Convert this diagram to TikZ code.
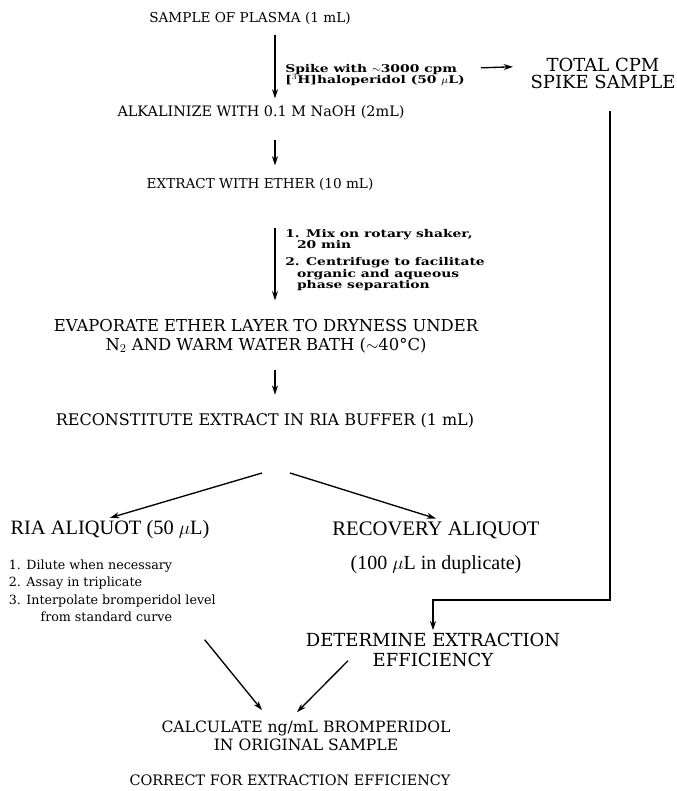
\documentclass[tikz,border=0pt]{standalone}
\usepackage{fontspec}
\setmainfont{DejaVu Serif}
\newfontfamily\timesfont{Liberation Serif}
\newfontfamily\notefont[FakeStretch=1.3]{DejaVu Serif}
\usetikzlibrary{arrows.meta,positioning,calc}
\newcommand\fs[2]{\fontsize{#1}{#2}\selectfont}

\begin{document}
\begin{tikzpicture}[x=0.75pt,y=-0.75pt,
    stage/.style={align=center,inner sep=2pt},
    note/.style={align=left,font=\notefont\bfseries\fs{8}{8.6},inner sep=0pt},
    link/.style={line width=1pt},
    arr/.style={link,-{Stealth[length=7pt,width=4.5pt]}}
  ]
  \useasboundingbox (0,0) rectangle (676,791);
  \coordinate (mainx) at (275,0);
  \node[stage,font=\fs{10.2}{13}] (sample) at (250,18) {SAMPLE OF PLASMA (1 mL)};
  \node[note,anchor=west] (spike) at (285,75) {Spike with $\sim$3000 cpm\\{}[$^{3}$H]haloperidol (50 $\mu$L)};
  \node[stage,font=\fs{13.5}{12.8}] (total) at (603,73) {TOTAL CPM\\SPIKE SAMPLE};
  \node[stage,font=\fs{10.8}{13}] (alk) at (261,112) {ALKALINIZE WITH 0.1 M NaOH (2mL)};
  \node[stage,font=\fs{10.2}{12}] (extract) at (260,184) {EXTRACT WITH ETHER (10 mL)};
  \node[note,anchor=north west] (mix) at (285,229) {1. Mix on rotary shaker,\\\hspace*{1.1em}20 min\\[4pt]2. Centrifuge to facilitate\\\hspace*{1.1em}organic and aqueous\\\hspace*{1.1em}phase separation};
  \node[stage,font=\fs{12.3}{14}] (evap) at (266,336) {EVAPORATE ETHER LAYER TO DRYNESS UNDER\\N$_2$ AND WARM WATER BATH ($\sim$40°C)};
  \node[stage,font=\fs{12}{14}] (recon) at (265,421) {RECONSTITUTE EXTRACT IN RIA BUFFER (1 mL)};
  \coordinate (forkL) at (262,473);
  \coordinate (forkR) at (290,473);
  \node[stage,font=\timesfont\fs{15.3}{17}] (ria) at (110,530) {RIA ALIQUOT (50 $\mu$L)};
  \node[stage,font=\timesfont\fs{15.5}{17}] (recov) at (436,530) {RECOVERY ALIQUOT};
  \node[stage,font=\fs{9.5}{13},align=left,anchor=north west] (riasteps) at (6,557) {1. Dilute when necessary\\2. Assay in triplicate\\3. Interpolate bromperidol level\\\hspace*{2.5em}from standard curve};
  \node[stage,font=\timesfont\fs{15}{16}] (dup) at (436,565) {(100 $\mu$L in duplicate)};
  \coordinate (turn) at (610,600);
  \node[stage,font=\fs{13.5}{15}] (determine) at (433,650) {DETERMINE EXTRACTION\\EFFICIENCY};
  \node[stage,font=\fs{11.7}{13.5}] (calc) at (306,736) {CALCULATE ng/mL BROMPERIDOL\\IN ORIGINAL SAMPLE};
  \node[stage,font=\fs{10.8}{13}] (correct) at (290,780) {CORRECT FOR EXTRACTION EFFICIENCY};
  % main column
  \draw[arr,shorten <=6pt,shorten >=3pt] (sample.south -| mainx) -- (alk.north -| mainx);
  \draw[arr,shorten <=14pt,shorten >=7pt] (alk.south -| mainx) -- (extract.north -| mainx);
  \draw[arr,shorten <=26pt,shorten >=12pt] (extract.south -| mainx) -- (evap.north -| mainx);
  \draw[arr,shorten <=11pt,shorten >=12pt] (evap.south -| mainx) -- (recon.north -| mainx);
  \draw[arr,shorten <=12pt,shorten >=11pt] ([yshift=5pt]spike.east) -- ([yshift=5pt]total.west);
  % split
  \draw[arr] (forkL) -- (ria.north);
  \draw[arr] (forkR) -- (recov.north);
  % recovery line
  \draw[arr,shorten <=15pt] (total.south -| turn) -- (turn) -| (determine.north);
  \draw[arr] ([shift={(-14,15)}]riasteps.south east) -- ([shift={(-44,-8)}]calc.north);
  \draw[arr] ([shift={(-85,-9)}]determine.south) -- ([shift={(-9,-6)}]calc.north);
\end{tikzpicture}
\end{document}
